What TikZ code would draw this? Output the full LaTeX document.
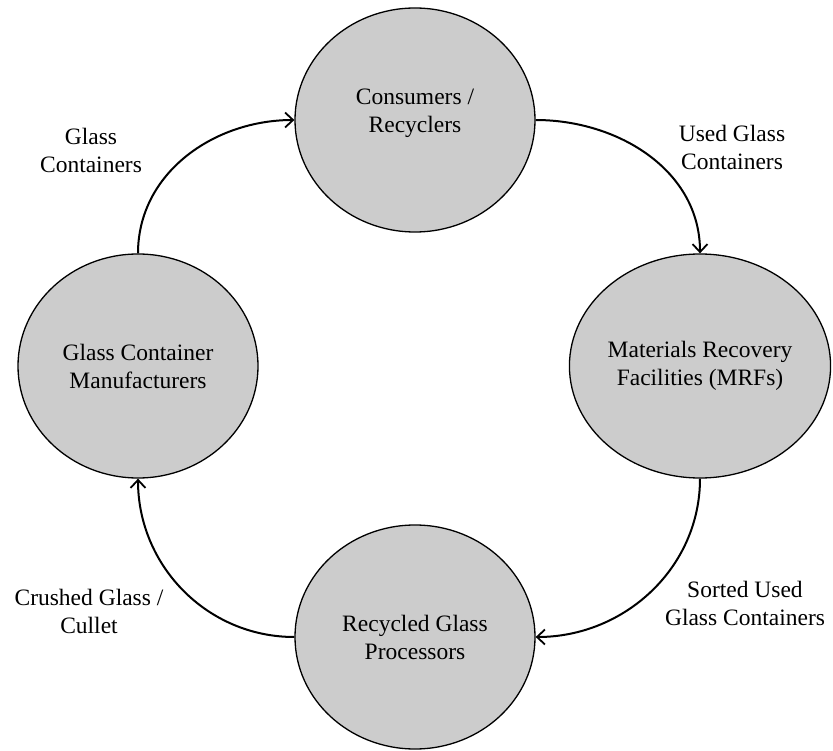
\documentclass[tikz,border=0pt]{standalone}
\usepackage{fontspec}
\setmainfont{Liberation Serif}
\usetikzlibrary{shapes.geometric,arrows.meta}
\definecolor{circfill}{RGB}{204,204,204}
\tikzset{
  stage/.style={ellipse, draw=black, line width=1.3pt, fill=circfill,
    minimum width=240pt, minimum height=224pt, inner sep=0pt,
    align=center, font=\fontsize{23.5pt}{28pt}\selectfont},
  stagetext/.style={align=center, font=\fontsize{23.5pt}{28pt}\selectfont},
  flowlabel/.style={align=center, font=\fontsize{23.5pt}{28pt}\selectfont},
  flow/.style={line width=2pt, -{Straight Barb[length=8pt,width=15pt,line width=1.8pt]}}
}
\begin{document}
\begin{tikzpicture}[x=1pt,y=-1pt]
\useasboundingbox (0,0) rectangle (833,751);
\node[stage] (top) at (415,120) {};
\node[stagetext] (toptext) at (415,113) {Consumers /\\Recyclers};
\node[stage] (right) at (700,366) {Materials Recovery\\Facilities (MRFs)};
\node[stage] (bottom) at (415,637) {Recycled Glass\\Processors};
\node[stage] (left) at (138,366) {Glass Container\\Manufacturers};

\draw[flow] (left.north) to[out=90,in=180] (top.west);
\draw[flow] (top.east) to[out=0,in=90] (right.north);
\draw[flow] (right.south) to[out=-90,in=0] (bottom.east);
\draw[flow] (bottom.west) to[out=180,in=-90] (left.south);

\node[flowlabel] (l1) at (91,150) {Glass\\Containers};
\node[flowlabel] (l2) at (732,147) {Used Glass\\Containers};
\node[flowlabel] (l3) at (745,603) {Sorted Used\\Glass Containers};
\node[flowlabel] (l4) at (89,611) {Crushed Glass /\\Cullet};
\end{tikzpicture}
\end{document}
